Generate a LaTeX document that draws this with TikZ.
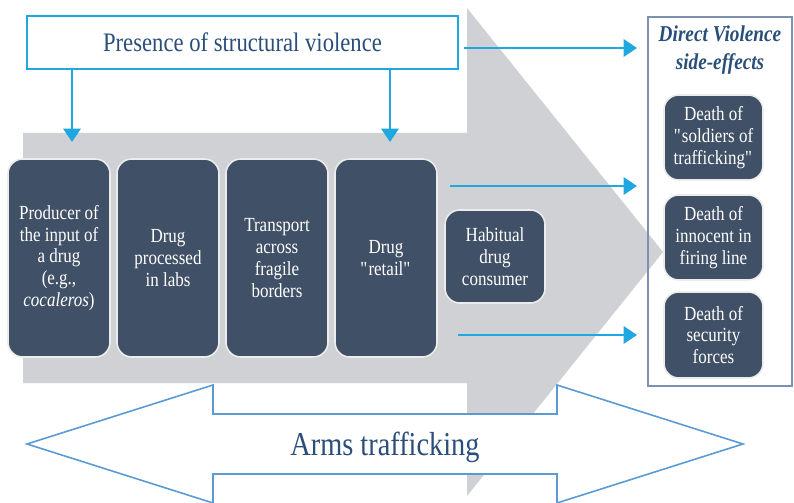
\documentclass[tikz,border=0pt]{standalone}
\usepackage{fontspec}
\setmainfont[FakeStretch=0.85]{Liberation Serif}
\usetikzlibrary{arrows.meta}
\definecolor{boxfill}{RGB}{64,80,102}
\definecolor{shaft}{RGB}{207,209,212}
\definecolor{skyline}{RGB}{30,167,225}
\definecolor{inkblue}{RGB}{42,78,122}
\definecolor{panelline}{RGB}{127,143,176}
\definecolor{armsline}{RGB}{91,155,213}
\tikzset{
  stage/.style={draw=white!85!gray, line width=1.2pt, fill=boxfill, rounded corners=11pt,
    text=white, align=center, font=\fontsize{15}{16.3}\selectfont,
    minimum width=76.5pt, minimum height=148.5pt, inner sep=2pt},
  death/.style={stage, minimum width=74.25pt, minimum height=63.75pt},
  flow/.style={skyline, line width=1.6pt, -{Triangle[length=10pt,width=13pt]}}
}
\begin{document}
\begin{tikzpicture}[x=0.75pt,y=-0.75pt]
  \useasboundingbox (0,0) rectangle (794,503);
  \fill[shaft] (23,133) -- (467,133) -- (467,8) -- (663,252) -- (467,496) -- (467,383) -- (23,383) -- cycle;
  \draw[armsline, line width=1.2pt, fill=white] (27,444) -- (213,385) -- (213,414) -- (557,414) -- (557,385)
    -- (743,444) -- (557,503) -- (557,474) -- (213,474) -- (213,503) -- cycle;
  \node[text=inkblue, font=\fontsize{25}{30}\selectfont] (arms) at (385,447) {Arms trafficking};

  \node[draw=skyline, line width=1.5pt, fill=white, minimum width=323pt, minimum height=39.75pt,
    text=inkblue, font=\fontsize{20}{24}\selectfont] (pres) at (242.5,42.5) {Presence of structural violence};

  \node[stage] (prod) at (59,258) {Producer of\\the input of\\a drug\\(e.g.,\\\textit{cocaleros})};
  \node[stage] (labs) at (168,258) {Drug\\processed\\in labs};
  \node[stage] (trans) at (277,258) {Transport\\across\\fragile\\borders};
  \node[stage] (retail) at (386,258) {Drug\\\textquotedbl retail\textquotedbl};
  \node[stage, minimum width=75pt, minimum height=69.75pt] (cons) at (495,256.5) {Habitual\\drug\\consumer};

  \node[draw=panelline, line width=1pt, minimum width=108pt, minimum height=276.75pt] (panel) at (720,201.5) {};
  \node[text=inkblue, font=\fontsize{17}{21}\selectfont\bfseries\itshape, align=center] (dvtitle) at (720,50) {Direct Violence\\side-effects};
  \node[death] (soldiers) at (713.5,137.5) {Death of\\\textquotedbl soldiers of\\trafficking\textquotedbl};
  \node[death] (innocent) at (713.5,237.5) {Death of\\innocent in\\firing line};
  \node[death, minimum height=64.5pt] (forces) at (713.5,335) {Death of\\security\\forces};

  \coordinate (d1) at (72,142);
  \coordinate (d2) at (390,142);
  \draw[flow] (pres.south -| d1) -- (d1);
  \draw[flow] (pres.south -| d2) -- (d2);
  \coordinate (s1) at (464,48);
  \coordinate (e1) at (637,48);
  \coordinate (s2) at (450,186);
  \coordinate (e2) at (637,186);
  \coordinate (s3) at (458,335);
  \coordinate (e3) at (637,335);
  \draw[flow] (s1) -- (e1);
  \draw[flow] (s2) -- (e2);
  \draw[flow] (s3) -- (e3);
\end{tikzpicture}
\end{document}
